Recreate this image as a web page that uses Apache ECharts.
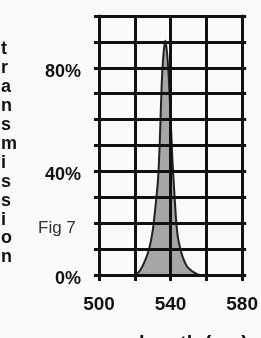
<!DOCTYPE html>
<html>
<head>
<meta charset="utf-8">
<script src="https://cdn.jsdelivr.net/npm/echarts@6/dist/echarts.min.js"></script>
<style>
html,body{margin:0;padding:0;background:#fafafa;}
#c{width:261px;height:338px;}
</style>
</head>
<body>
<div id="c"></div>
<script>
const wavelengths = [520, 522, 524, 526, 528, 530, 531.5, 533, 534, 535, 536, 537, 538, 539, 540, 541, 542, 543, 544, 545.5, 547, 549, 551, 553, 556];
const transmission = [0, 1, 3, 6, 10, 17, 26, 37, 52, 73, 85, 90.5, 86, 76, 61, 45, 33, 22, 15, 10, 6.5, 3.5, 2, 1, 0];
const xTickLabels = ['500', '540', '580'];
const yTickLabels = ['0%', '40%', '80%'];
const yAxisTitle = 'transmission';
const xAxisTitle = 'wavelength (nm)';
const figLabel = 'Fig 7';

const chart = echarts.init(document.getElementById('c'), null, {renderer: 'canvas'});
const data = wavelengths.map((w, i) => [w, transmission[i]]);
const FONT = 'Liberation Sans, Arial, sans-serif';

chart.setOption({
  backgroundColor: '#fafafa',
  animation: false,
  grid: {left: 99, right: 18, top: 16, bottom: 63},
  xAxis: {
    type: 'value', min: 500, max: 580, interval: 20, z: 5,
    axisLine: {show: true, lineStyle: {color: '#111', width: 3}},
    axisTick: {show: true, length: 6, lineStyle: {color: '#111', width: 3}},
    splitLine: {show: true, lineStyle: {color: '#111', width: 3}},
    axisLabel: {
      margin: 20, color: '#111', fontSize: 19, fontWeight: 'bold', fontFamily: FONT,
      formatter: v => xTickLabels.includes(String(v)) ? String(v) : ''
    }
  },
  yAxis: [{
    type: 'value', min: 0, max: 100, interval: 10, z: 5,
    axisLine: {show: true, lineStyle: {color: '#111', width: 3}},
    axisTick: {show: true, length: 5, lineStyle: {color: '#111', width: 3}},
    splitLine: {show: true, lineStyle: {color: '#111', width: 3}},
    axisLabel: {
      margin: 18, color: '#111', fontSize: 18, fontWeight: 'bold', fontFamily: FONT,
      verticalAlign: 'top', lineHeight: 8,
      formatter: v => yTickLabels.includes(v + '%') ? v + '%' : ''
    }
  }, {
    type: 'value', min: 0, max: 100, interval: 10, position: 'right', z: 5,
    axisLine: {show: true, lineStyle: {color: '#111', width: 3}},
    axisTick: {show: true, length: 4, lineStyle: {color: '#111', width: 3}},
    splitLine: {show: false},
    axisLabel: {show: false}
  }],
  series: [{
    type: 'line', data: data, smooth: 0.2, symbol: 'none', z: 1,
    lineStyle: {color: '#222', width: 2},
    areaStyle: {color: '#a6a6a6', opacity: 1}
  }],
  graphic: [
    {type: 'text', left: 1, top: 40, z: 10, style: {
      text: yAxisTitle.split('').join('\n'), fill: '#111',
      font: 'bold 18px ' + FONT, lineHeight: 18.9, align: 'center'
    }},
    {type: 'text', left: 38, top: 220, z: 10, style: {
      text: figLabel, fill: '#333', font: '17px ' + FONT
    }},
    {type: 'text', left: 90, top: 334, z: 10, style: {
      text: xAxisTitle, fill: '#111', font: 'bold 20px ' + FONT
    }},
    {type: 'text', left: 250, top: -6, z: 10, style: {
      text: '"', fill: '#222', font: 'bold 14px ' + FONT
    }}
  ]
});
</script>
</body>
</html>
